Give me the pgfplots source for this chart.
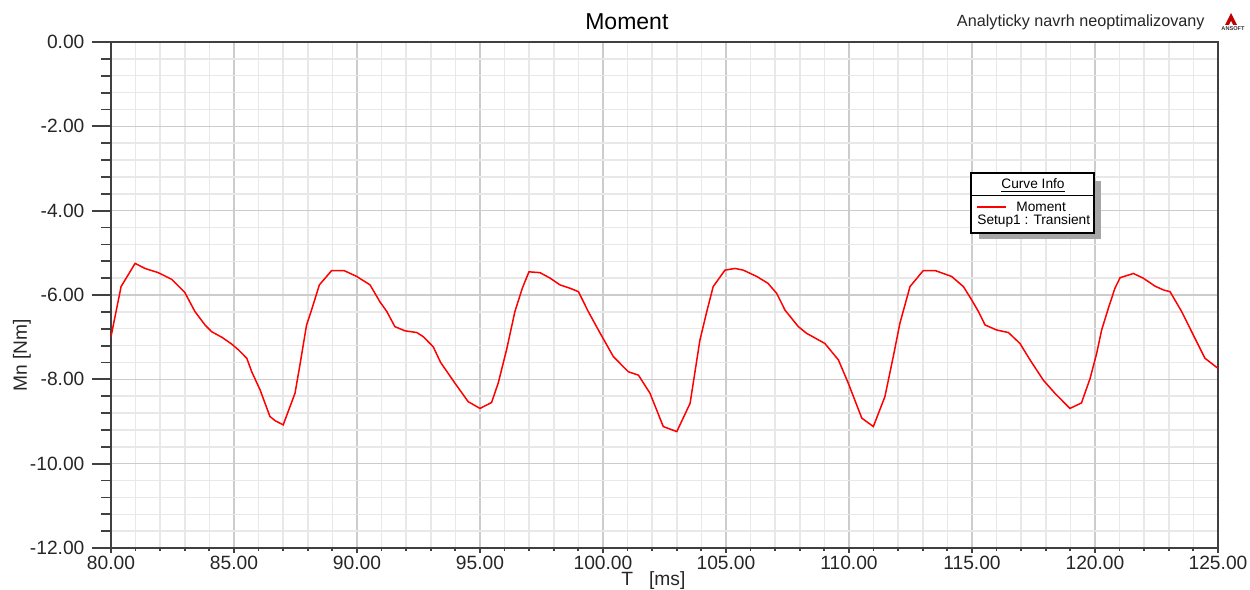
\documentclass[border=0pt]{standalone}
\usepackage{pgfplots}
\pgfplotsset{compat=1.18}
\usepackage{fontspec}
\setmainfont{Liberation Sans}
\definecolor{majgrid}{HTML}{CCCCCC}
\definecolor{mingrid}{HTML}{E8E8E8}
\definecolor{axcol}{HTML}{404040}
\begin{document}
\begin{tikzpicture}[x=0.5pt,y=0.5pt]
\useasboundingbox (0,0) rectangle (1250,590);
\begin{axis}[
  at={(55.5pt,21pt)}, anchor=south west,
  scale only axis, width=553.5pt, height=253pt,
  xmin=80, xmax=125, ymin=-12, ymax=0,
  xtick={80,85,...,125},
  xticklabels={80.00,85.00,90.00,95.00,100.00,105.00,110.00,115.00,120.00,125.00},
  ytick={-12,-10,...,0},
  yticklabels={-12.00,-10.00,-8.00,-6.00,-4.00,-2.00,0.00},
  minor x tick num=4, minor y tick num=4,
  xtick pos=left, ytick pos=left,
  tick align=outside,
  x tick style={/pgfplots/major tick length=2.5pt,/pgfplots/minor tick length=1.5pt,axcol,line width=0.9pt},
  y tick style={/pgfplots/major tick length=9.5pt,/pgfplots/minor tick length=5pt,axcol,line width=0.9pt},
  grid=both,
  major grid style={majgrid,line width=0.75pt},
  minor grid style={mingrid,line width=0.75pt},
  axis line style={axcol,line width=1pt},
  tick label style={font=\fontsize{9.6}{11}\selectfont, text=black!85},
  yticklabel style={xshift=-5.5pt},
  xticklabel style={yshift=4pt},
  xlabel={T\ \ \ [ms]},
  ylabel={Mn [Nm]},
  label style={font=\fontsize{9.6}{11}\selectfont, text=black!85},
  xlabel style={at={(axis description cs:0.49,-0.0652)},anchor=center},
  ylabel style={at={(axis description cs:-0.0804,0.381)},anchor=center,rotate=0},
  title={Moment},
  every axis title shift=0pt,
  title style={at={(axis description cs:0.466,1.0395)},anchor=center,font=\fontsize{11.5}{13}\selectfont},
]
\addplot[red, line width=0.75pt] coordinates {
(80.00,-6.99) (80.41,-5.80) (80.98,-5.25) (81.38,-5.37) (81.92,-5.47)
(82.47,-5.63) (83.00,-5.94) (83.41,-6.39) (83.82,-6.71) (84.09,-6.87)
(84.50,-7.00) (84.90,-7.16) (85.18,-7.30) (85.52,-7.50) (85.72,-7.82)
(86.06,-8.25) (86.46,-8.88) (86.67,-8.98) (87.00,-9.08) (87.48,-8.33)
(87.68,-7.66) (87.95,-6.71) (88.15,-6.36) (88.47,-5.76) (88.97,-5.42)
(89.47,-5.42) (89.99,-5.56) (90.53,-5.76) (90.93,-6.16) (91.21,-6.39)
(91.54,-6.75) (91.95,-6.85) (92.43,-6.89) (92.70,-6.99) (93.10,-7.23)
(93.40,-7.60) (93.98,-8.09) (94.52,-8.53) (95.00,-8.69) (95.47,-8.55)
(95.74,-8.09) (96.08,-7.30) (96.42,-6.39) (96.72,-5.84) (96.99,-5.45)
(97.44,-5.47) (97.85,-5.60) (98.25,-5.76) (98.66,-5.84) (99.00,-5.92)
(99.40,-6.39) (99.85,-6.87) (100.42,-7.46) (101.03,-7.82) (101.44,-7.90)
(101.91,-8.33) (102.45,-9.12) (103.00,-9.24) (103.54,-8.57) (103.94,-7.07)
(104.22,-6.39) (104.48,-5.80) (104.96,-5.41) (105.37,-5.37) (105.70,-5.41)
(106.25,-5.56) (106.70,-5.72) (107.06,-5.96) (107.40,-6.36) (107.94,-6.75)
(108.28,-6.91) (109.02,-7.15) (109.57,-7.54) (109.97,-8.09) (110.52,-8.92)
(110.99,-9.12) (111.46,-8.41) (111.80,-7.46) (112.07,-6.67) (112.48,-5.80)
(113.02,-5.42) (113.50,-5.42) (114.17,-5.56) (114.65,-5.80) (114.99,-6.12)
(115.26,-6.39) (115.53,-6.71) (116.00,-6.83) (116.48,-6.89) (116.95,-7.15)
(117.36,-7.54) (117.90,-8.02) (118.37,-8.33) (118.98,-8.69) (119.45,-8.56)
(119.80,-7.98) (120.07,-7.38) (120.27,-6.83) (120.54,-6.32) (120.81,-5.84)
(121.02,-5.59) (121.56,-5.49) (121.96,-5.60) (122.44,-5.79) (122.78,-5.88)
(123.05,-5.92) (123.52,-6.39) (123.93,-6.87) (124.47,-7.50) (125.00,-7.74)
};
\end{axis}
% subtitle and logo
\node[anchor=east, font=\fontsize{8.1}{10}\selectfont, text=black!85, inner sep=0pt] at (1205,568) {Analyticky navrh neoptimalizovany};
\fill[red!75!black] (1225,565) -- (1231,577) -- (1237,565) -- cycle;
\fill[white] (1229,565) -- (1231,569) -- (1233,565) -- cycle;
\node[font=\fontsize{2.8}{3}\selectfont\bfseries, text=black!80, inner sep=0pt] at (1233,561) {ANSOFT};
% curve info box
\fill[black!35] (979,351) rectangle (1101,409);
\filldraw[fill=white, draw=black, line width=1pt] (971,357) rectangle (1094,417);
\draw[black, line width=0.5pt] (971,394) -- (1094,394);
\node[font=\fontsize{6.85}{8}\selectfont, inner sep=0pt] at (1033,404) {\underline{Curve Info}};
\draw[red, line width=1pt] (977,383) -- (1006,383);
\node[font=\fontsize{6.85}{8}\selectfont, anchor=west, inner sep=0pt] at (1016,383) {Moment};
\node[font=\fontsize{6.85}{8}\selectfont, anchor=west, inner sep=0pt] at (977,369) {Setup1 : Transient};
\end{tikzpicture}
\end{document}
